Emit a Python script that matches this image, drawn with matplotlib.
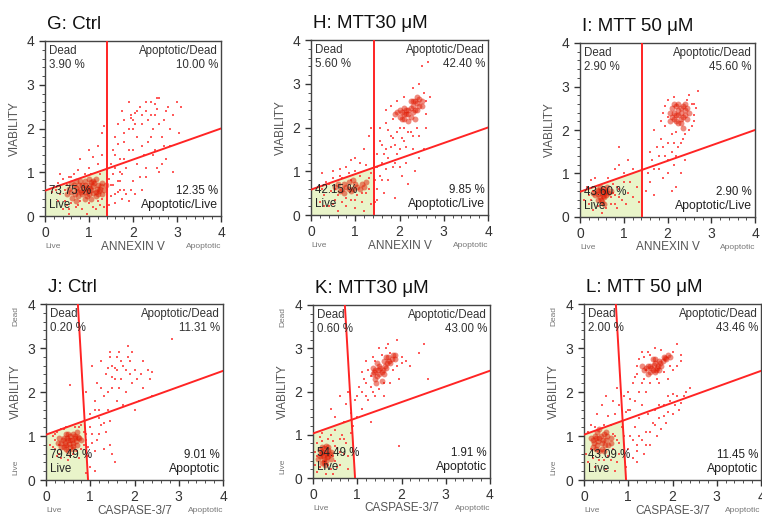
import matplotlib
matplotlib.use("Agg")
import matplotlib.pyplot as plt
from matplotlib.ticker import MultipleLocator

plt.rcParams['font.family'] = ['Liberation Sans', 'DejaVu Sans']

W, H = 762, 517

titles = ["G: Ctrl", "H: MTT30 \u03bcM", "I: MTT 50 \u03bcM",
          "J: Ctrl", "K: MTT30 \u03bcM", "L: MTT 50 \u03bcM"]
xlabels = ["ANNEXIN V"] * 3 + ["CASPASE-3/7"] * 3
pct_dead = ["3.90 %", "5.60 %", "2.90 %", "0.20 %", "0.60 %", "2.00 %"]
pct_apdead = ["10.00 %", "42.40 %", "45.60 %", "11.31 %", "43.00 %", "43.46 %"]
pct_live = ["73.75 %", "42.15 %", "43.60 %", "79.49 %", "54.49 %", "43.09 %"]
pct_aplive = ["12.35 %", "9.85 %", "2.90 %", "9.01 %", "1.91 %", "11.45 %"]
lr_names = ["Apoptotic/Live"] * 3 + ["Apoptotic"] * 3

# gates: vertical line (x at top, x at bottom), diagonal (y at x=0, y at x=4)
vgate_annexin = (1.42, 1.42)
dgate_annexin = (0.58, 2.0)
vgate_caspase = (0.72, 0.95)
dgate_caspase = (1.03, 2.48)

# dense cores of the populations (x, y)
core = [
    [(0.6,0.55),(0.7,0.65),(0.8,0.6),(0.85,0.7),(0.9,0.55),(0.95,0.65),(1.0,0.72),(1.05,0.6),
     (1.1,0.68),(1.15,0.55),(1.2,0.7),(0.75,0.45),(0.9,0.8),(1.0,0.5),(1.1,0.8),(1.25,0.62),
     (0.65,0.72),(1.3,0.75),(0.85,0.5),(1.05,0.78),(0.95,0.45),(1.2,0.5),(0.7,0.8),(1.15,0.85),
     (0.55,0.62),(0.6,0.75),(0.68,0.5),(0.72,0.58),(0.78,0.72),(0.82,0.55),(0.88,0.62),(0.92,0.72),
     (0.98,0.58),(1.02,0.65),(1.08,0.52),(1.12,0.75),(1.18,0.62),(1.22,0.58),(1.28,0.68),(1.35,0.6),
     (0.9,0.4),(1.05,0.4),(0.62,0.42),(1.3,0.5),(0.8,0.8),(1.0,0.85),(1.15,0.45),(0.7,0.35),
     (0.5,0.5),(1.38,0.72)],
    [(1.9,2.3),(2.0,2.25),(2.05,2.35),(2.1,2.2),(2.15,2.3),(2.2,2.4),(2.25,2.25),(2.3,2.5),
     (2.35,2.6),(2.4,2.55),(2.45,2.65),(2.3,2.35),(2.2,2.15),(2.0,2.4),(2.4,2.4),(2.5,2.6),
     (2.1,2.45),(2.25,2.6),(1.95,2.35),(2.05,2.2),(2.15,2.4),(2.25,2.45),(2.35,2.4),(2.45,2.5),
     (2.3,2.6),(2.4,2.7),(2.5,2.5),(2.2,2.3),(2.1,2.3),(2.35,2.2),
     (0.6,0.7),(0.7,0.6),(0.8,0.65),(0.9,0.55),(1.0,0.7),(1.1,0.6),(0.75,0.5),(0.95,0.8),
     (1.2,0.65),(0.85,0.75),(0.65,0.55),(0.75,0.7),(0.85,0.6),(1.05,0.65),(1.15,0.7),(0.55,0.65),
     (0.95,0.6),(1.25,0.75)],
    [(2.1,2.3),(2.15,2.4),(2.2,2.2),(2.25,2.35),(2.3,2.5),(2.35,2.3),(2.4,2.45),(2.2,2.55),
     (2.3,2.15),(2.1,2.5),(2.45,2.25),(2.25,2.6),(2.05,2.2),(2.4,2.6),(2.35,2.05),(2.15,2.25),
     (2.25,2.45),(2.3,2.4),(2.35,2.55),(2.2,2.35),(2.4,2.35),(2.45,2.5),(2.3,2.25),(2.15,2.6),
     (2.05,2.4),(2.5,2.4),(2.25,2.15),
     (0.35,0.5),(0.4,0.6),(0.45,0.45),(0.5,0.55),(0.55,0.65),(0.6,0.5),(0.45,0.7),(0.5,0.35),
     (0.4,0.4),(0.6,0.6),(0.55,0.45),(0.65,0.55),(0.42,0.52),(0.48,0.62),(0.52,0.48),(0.58,0.58),
     (0.38,0.62),(0.48,0.4),(0.62,0.68),(0.7,0.6),(0.3,0.55),(0.55,0.3)],
    [(0.35,0.85),(0.4,0.95),(0.45,0.8),(0.5,0.9),(0.55,1.0),(0.6,0.85),(0.65,0.95),(0.7,0.8),
     (0.45,1.05),(0.55,0.75),(0.6,1.05),(0.75,0.95),(0.4,0.75),(0.5,0.65),(0.7,1.1),(0.3,0.95),
     (0.38,0.9),(0.42,0.85),(0.48,0.95),(0.52,0.82),(0.58,0.92),(0.62,0.78),(0.68,0.88),(0.5,1.05),
     (0.45,0.7),(0.65,1.0),(0.55,0.9),(0.35,0.75),(0.72,0.98),(0.28,0.85),(0.6,0.7),(0.8,0.9)],
    [(0.15,0.5),(0.2,0.6),(0.25,0.45),(0.3,0.55),(0.35,0.65),(0.25,0.7),(0.3,0.4),(0.2,0.35),
     (0.35,0.5),(0.4,0.6),(0.15,0.65),(0.3,0.75),(0.18,0.55),(0.22,0.5),(0.28,0.6),(0.32,0.48),
     (0.38,0.55),(0.25,0.38),(0.2,0.72),(0.35,0.72),(0.12,0.45),(0.28,0.3),(0.4,0.45),
     (1.35,2.4),(1.4,2.5),(1.45,2.35),(1.5,2.6),(1.55,2.45),(1.6,2.7),(1.65,2.55),(1.7,2.8),
     (1.75,2.65),(1.8,2.85),(1.45,2.65),(1.55,2.25),(1.4,2.3),(1.6,2.4),(1.85,2.75),(1.38,2.45),
     (1.48,2.5),(1.52,2.55),(1.58,2.5),(1.62,2.6),(1.68,2.65),(1.72,2.7),(1.78,2.75),(1.5,2.4),
     (1.42,2.2),(1.65,2.8),(1.85,2.85),(1.35,2.55)],
    [(0.2,0.9),(0.25,1.0),(0.3,0.8),(0.35,0.95),(0.4,0.85),(0.45,1.05),(0.5,0.9),(0.55,0.8),
     (0.3,1.1),(0.4,0.7),(0.5,1.1),(0.2,0.75),(0.6,0.95),(0.35,0.65),(0.22,0.85),(0.28,0.95),
     (0.32,0.88),(0.38,1.0),(0.42,0.92),(0.48,0.8),(0.52,1.0),(0.28,0.7),(0.45,0.65),(0.15,0.95),
     (0.6,0.85),(0.35,1.15),
     (1.4,2.55),(1.5,2.6),(1.55,2.5),(1.6,2.65),(1.65,2.55),(1.7,2.7),(1.75,2.6),(1.8,2.8),
     (1.85,2.75),(1.45,2.4),(1.6,2.45),(1.7,2.5),(1.55,2.75),(1.9,2.85),(1.3,2.6),(1.45,2.6),
     (1.52,2.55),(1.58,2.62),(1.62,2.5),(1.68,2.6),(1.72,2.65),(1.78,2.7),(1.82,2.78),(1.5,2.45),
     (1.6,2.75),(1.35,2.5),(1.95,2.8)],
]

# scattered events (x, y)
spread = [
    [(0.25,0.6),(0.3,0.75),(0.35,0.5),(0.4,0.85),(0.45,0.35),(0.5,0.7),(0.55,0.9),(0.5,0.25),
     (0.6,0.3),(0.65,0.95),(0.7,0.2),(0.8,0.35),(0.85,0.15),(0.9,0.95),(1.0,0.3),(1.05,0.95),
     (1.1,0.2),(1.2,0.35),(1.25,0.95),(1.3,0.4),(1.35,0.2),(1.4,0.6),(1.45,0.85),(1.5,0.45),
     (1.55,0.7),(1.6,0.3),(1.65,0.55),(1.7,0.8),(1.75,0.4),(1.8,0.6),(1.9,0.35),(1.55,0.95),
     (1.45,0.25),(0.4,0.15),(0.75,1.05),(1.0,1.1),(1.2,1.2),(0.55,0.05),(0.95,0.05),
     (0.8,1.3),(1.0,1.5),(1.2,1.6),(1.3,1.9),(1.35,2.05),(1.1,1.35),(1.3,1.4),
     (1.5,1.2),(1.55,1.5),(1.6,1.8),(1.65,2.1),(1.7,1.3),(1.75,2.4),(1.8,1.7),(1.85,1.1),
     (1.9,2.0),(1.95,2.3),(2.0,1.5),(2.0,2.2),(2.05,2.35),(2.1,1.8),(2.1,1.2),(2.15,2.5),
     (2.2,2.1),(2.25,1.4),(2.3,2.4),(2.35,1.7),(2.4,2.6),(2.45,2.0),(2.5,1.5),(2.5,2.3),
     (2.55,1.1),(2.6,2.7),(2.65,1.8),(2.7,2.2),(2.75,1.3),(2.8,2.5),(2.85,1.6),(3.0,2.6),
     (3.1,2.5),(2.6,1.0),(2.9,1.0),(2.3,0.9),(2.0,0.8),(2.2,0.6),(1.9,2.6),(1.7,1.0),
     (1.6,1.4),(2.4,2.3),(1.95,2.25),(2.05,2.1),(2.3,1.1),(1.8,2.2),(2.7,1.6),(2.55,2.45),
     (0.3,0.35),(0.45,0.6),(0.6,0.9),(0.55,0.15),(0.35,0.95),(0.15,0.55),(0.75,0.25),(1.15,0.15),
     (1.25,0.25),(1.4,0.35),(1.5,0.7),(1.6,0.5),(1.65,0.8),(1.7,0.6),(1.75,0.95),(1.85,0.5),
     (1.95,0.6),(2.05,0.5),(2.15,0.9),(1.6,1.1),(1.8,1.3),(1.9,1.5),(2.2,1.6),(2.4,1.8),
     (2.6,2.1),(2.75,2.4),(2.5,2.55),(2.2,2.3),(2.0,2.0),(2.1,2.4),(2.35,2.2),(2.45,1.4),
     (2.65,1.2),(2.85,2.0),(3.05,1.9),(1.65,1.65),(1.8,1.9),(2.3,2.6),(2.55,2.7),(2.9,2.3)],
    [(0.2,0.3),(0.25,0.6),(0.3,0.45),(0.35,0.75),(0.4,0.2),(0.45,0.55),(0.5,0.85),(0.55,0.35),
     (0.6,0.1),(0.65,0.9),(0.7,0.3),(0.8,0.2),(0.85,0.95),(0.9,0.35),(1.0,0.15),(1.05,0.45),
     (1.1,0.9),(1.15,0.3),(1.2,0.1),(1.25,0.5),(1.3,0.85),(1.35,0.25),(0.55,0.6),(1.0,1.0),
     (0.7,0.85),(0.8,1.1),(1.0,1.3),(1.2,1.5),(1.3,1.8),(1.35,2.0),(1.1,1.2),(0.9,1.25),
     (1.25,1.15),(1.45,0.3),(1.5,0.6),(1.55,0.9),(1.6,1.2),(1.65,0.5),(1.7,1.5),(1.75,0.8),
     (1.8,1.8),(1.85,1.1),(1.9,0.4),(1.95,1.4),(2.0,2.0),(2.05,0.9),(2.1,1.7),(2.15,1.2),
     (2.2,0.7),(2.25,1.9),(2.3,1.5),(2.35,1.0),(2.4,2.0),(2.45,1.3),(1.6,1.6),(1.75,1.95),
     (1.5,1.4),(1.9,1.6),(2.0,1.1),(1.7,2.1),(1.85,2.2),(2.6,2.3),(2.55,2.8),(2.45,3.0),
     (2.5,3.4),(2.65,3.5),(2.1,2.7),(2.3,2.9),(1.95,2.6),(2.6,2.0),(2.55,1.5),
     (1.5,1.1),(1.55,1.7),(1.6,0.8),(1.65,1.4),(1.7,1.05),(1.75,1.3),(1.8,1.55),(1.85,1.75),
     (1.9,1.2),(1.95,1.9),(2.0,1.5),(2.05,1.75),(2.1,2.0),(2.15,1.55),(2.2,1.9),(2.3,1.8),
     (2.45,1.8),(2.6,2.6),(2.7,2.7),(1.7,2.4),(1.8,2.5),(1.55,2.0),(0.3,0.2),(0.4,0.7),
     (0.5,0.25),(0.6,0.45),(0.8,0.4),(0.9,0.8),(1.0,0.35),(1.15,0.5),(1.3,0.6),(1.35,0.95),
     (1.45,0.8),(1.5,0.35),(0.25,0.95),(0.5,1.0),(0.65,1.05)],
    [(0.1,0.4),(0.15,0.7),(0.2,0.3),(0.25,0.85),(0.3,0.15),(0.3,0.6),(0.7,0.3),(0.75,0.75),
     (0.8,0.5),(0.85,0.2),(0.9,0.65),(0.95,0.4),(1.0,0.8),(1.05,0.3),(1.1,0.55),(1.2,0.45),
     (1.3,0.7),(1.35,0.35),(0.5,0.1),(0.65,0.9),(0.35,0.9),(1.0,1.0),(0.9,1.2),(0.8,1.1),
     (1.1,1.3),(0.9,1.6),(1.2,1.1),(1.5,0.6),(1.55,1.0),(1.6,0.8),(1.65,1.3),(1.7,0.5),
     (1.75,1.6),(1.8,1.1),(1.85,1.8),(1.9,0.9),(1.95,1.4),(2.0,1.7),(2.0,1.0),(2.1,1.9),
     (2.15,1.2),(2.2,0.7),(2.25,1.6),(2.3,1.0),(2.35,1.8),(2.4,1.3),(1.95,2.1),(2.0,2.7),
     (2.5,2.8),(2.6,2.6),(2.7,2.9),(2.55,2.1),(2.6,2.35),(1.9,2.4),(2.15,2.75),(2.45,2.7),
     (1.7,2.0),(2.2,1.4),(2.1,0.6),(1.6,1.5),(1.7,1.1),(1.8,1.4),(1.9,1.6),(2.0,1.3),
     (2.1,1.5),(2.15,1.7),(2.2,1.95),(2.3,1.7),(2.4,1.9),(2.5,2.0),(2.6,2.2),(2.65,2.5),
     (2.55,2.6),(1.95,2.55),(2.0,2.3),(1.85,2.2),(0.2,0.5),(0.25,0.4),(0.7,0.45),(0.75,0.55),
     (0.8,0.3),(0.85,0.7),(0.9,0.45),(1.15,0.8),(0.6,0.2),(0.4,0.25)],
    [(0.1,0.8),(0.15,1.0),(0.2,0.7),(0.25,1.1),(0.3,0.6),(0.2,0.9),(0.35,0.5),(0.4,1.15),
     (0.6,0.6),(0.65,1.2),(0.8,0.7),(0.85,1.1),(0.9,0.9),(0.95,0.55),(0.75,0.5),(0.5,0.45),
     (0.8,1.25),(1.0,1.2),(1.05,0.85),(1.1,0.65),(1.2,1.05),(1.3,0.7),(1.45,0.8),(1.5,0.6),
     (1.55,0.4),(1.0,0.3),(0.9,0.15),(1.1,0.2),(0.55,2.15),(0.9,2.0),(1.0,1.5),(1.05,2.6),
     (1.1,1.8),(1.15,2.2),(1.2,1.4),(1.25,2.7),(1.3,1.9),(1.35,2.4),(1.4,1.6),(1.45,2.8),
     (1.5,2.1),(1.55,2.55),(1.6,1.8),(1.65,2.9),(1.7,2.3),(1.75,2.6),(1.8,2.0),(1.85,2.8),
     (1.9,2.4),(1.95,2.2),(2.0,2.5),(2.1,1.8),(2.2,2.1),(2.3,2.5),(2.4,2.45),(2.2,2.7),
     (1.85,3.05),(2.85,3.2),(1.5,2.6),(1.6,2.5),(1.4,2.55),(1.75,1.7),(1.2,1.6),(1.3,1.3),
     (2.4,1.9),(2.0,1.6),(1.55,2.3),(1.95,2.9),(1.45,1.35),(0.15,0.75),(0.2,1.05),(0.25,0.55),
     (0.3,0.8),(0.35,1.15),(0.55,0.55),(0.7,0.65),(0.75,1.2),(0.85,0.8),(0.9,1.05),(0.95,0.75),
     (0.45,1.2),(1.05,1.05),(1.15,0.9),(1.25,1.25),(1.35,1.1),(1.1,1.6),(1.25,2.1),(1.4,2.0),
     (1.5,2.35),(1.65,2.1),(1.7,2.7),(1.8,2.5),(1.9,2.7),(2.05,2.3),(2.15,2.4),(1.45,2.9),
     (1.6,2.8),(2.35,2.3)],
    [(0.05,0.3),(0.1,0.8),(0.1,0.15),(0.15,0.95),(0.4,0.2),(0.45,0.85),(0.5,0.4),(0.55,0.7),
     (0.6,0.3),(0.65,1.0),(0.7,0.55),(0.75,0.8),(0.8,0.2),(0.85,1.05),(0.9,0.65),(0.5,1.1),
     (0.4,1.0),(0.2,1.05),(0.3,0.1),(0.6,0.9),(0.4,1.6),(0.5,1.4),(0.6,1.9),(0.7,1.3),
     (0.75,1.7),(0.8,2.0),(0.85,1.5),(0.9,1.2),(0.95,1.8),(1.0,1.4),(1.05,2.1),(1.1,1.6),
     (1.15,2.3),(1.2,1.9),(1.25,2.5),(1.3,1.3),(1.3,2.1),(1.2,2.7),(1.1,2.45),(1.35,2.8),
     (1.5,3.0),(1.7,3.1),(1.9,3.2),(2.0,2.8),(2.1,2.7),(1.95,2.3),(1.75,2.2),(1.5,2.05),
     (2.2,2.6),(2.5,3.1),(2.6,2.3),(2.4,2.9),(1.95,0.75),(1.6,1.9),(1.65,3.0),(1.35,2.0),
     (0.05,0.6),(0.1,0.5),(0.15,0.25),(0.2,0.85),(0.35,0.3),(0.45,0.5),(0.5,0.75),(0.55,0.25),
     (0.6,0.6),(0.7,0.9),(0.8,0.5),(0.35,0.9),(0.45,0.1),(1.0,1.9),(1.1,2.0),(1.2,2.2),
     (1.3,2.35),(1.4,2.7),(1.55,2.85),(1.75,2.9),(1.8,2.5),(1.9,2.6),(2.0,2.65),(1.6,2.2),
     (1.25,1.8),(1.4,1.9)],
    [(0.05,0.6),(0.1,1.1),(0.1,0.4),(0.15,1.25),(0.2,0.5),(0.25,0.3),(0.45,0.45),(0.55,0.55),
     (0.6,1.25),(0.65,0.7),(0.7,1.0),(0.75,0.4),(0.8,0.85),(0.85,1.2),(0.7,0.2),(0.5,0.25),
     (0.3,1.5),(0.4,1.7),(0.5,1.9),(0.55,1.45),(0.65,1.8),(0.7,1.5),(0.8,1.7),(0.75,2.1),
     (0.9,1.9),(0.95,1.55),(1.0,2.0),(1.05,1.6),(1.1,2.2),(1.15,1.8),(1.2,2.4),(1.25,2.0),
     (1.3,2.2),(1.35,2.8),(1.4,2.0),(1.45,2.9),(1.6,3.0),(1.75,2.95),(2.0,2.9),(2.1,3.1),
     (2.2,2.7),(2.0,2.5),(1.9,2.3),(1.7,2.2),(1.5,2.2),(1.2,2.6),(1.3,2.9),(0.95,0.3),
     (1.0,0.7),(1.05,1.0),(1.1,0.5),(1.15,1.2),(1.2,0.8),(1.25,1.4),(1.3,0.9),(1.35,0.6),
     (1.4,1.1),(1.45,1.5),(1.5,0.8),(1.55,1.3),(1.6,1.6),(1.65,1.0),(1.7,1.4),(1.75,1.15),
     (1.8,1.7),(1.85,1.3),(1.9,1.55),(1.95,1.8),(2.0,1.5),(2.05,1.7),(2.1,1.9),(2.2,1.75),
     (2.3,2.0),(2.4,2.1),(1.2,0.4),(1.0,1.6),(1.3,1.7),(0.15,0.7),(0.25,1.2),(0.35,0.45),
     (0.45,1.25),(0.6,0.45),(0.65,1.05),(0.75,0.9),(0.8,0.6),(0.9,1.0),(1.4,2.5),(1.5,2.85),
     (1.65,2.3),(1.8,2.45),(1.95,2.6),(2.1,2.6),(2.2,2.85),(1.35,2.3),(1.25,2.75),(1.15,2.35),
     (1.05,1.85),(1.4,0.8),(1.5,1.1),(1.6,1.25),(1.7,1.7),(1.8,1.45),(1.9,1.9),(2.0,1.95),
     (2.15,1.6),(2.25,1.9),(1.1,0.9),(1.25,1.0),(1.2,0.65)],
]

# axes boxes in pixels: left, top, right, bottom
boxes = [(45, 41, 221, 216), (311, 40, 488, 215), (580, 43, 755, 217),
         (46, 304, 223, 480), (313, 305, 490, 478), (584, 304, 761, 480)]

fig = plt.figure(figsize=(W / 100, H / 100), dpi=100)

red = '#ff2424'
grey = '#555555'

for i in range(6):
    l, t, r, b = boxes[i]
    ax = fig.add_axes([l / W, 1 - b / H, (r - l) / W, (b - t) / H])
    ax.set_xlim(0, 4)
    ax.set_ylim(0, 4)

    if i < 3:
        vg, dg = vgate_annexin, dgate_annexin
    else:
        vg, dg = vgate_caspase, dgate_caspase
    # corner where the two gates cross
    slope_d = (dg[1] - dg[0]) / 4
    k = (vg[0] - vg[1]) / 4
    yi = (dg[0] + slope_d * vg[1]) / (1 - slope_d * k)
    xi = vg[1] + k * yi
    ax.fill([0, vg[1], xi, 0], [0, 0, yi, dg[0]], color='#e9f4c9', zorder=0)

    cx = [p[0] for p in core[i]]
    cy = [p[1] for p in core[i]]
    sx = [p[0] for p in spread[i]]
    sy = [p[1] for p in spread[i]]
    ax.scatter(sx, sy, s=4, marker='s', color=red, alpha=0.75, linewidths=0, zorder=2)
    ax.scatter(cx, cy, s=18, marker='o', color='#e01800', alpha=0.5, linewidths=0, zorder=2)

    ax.plot([vg[0], vg[1]], [4, 0], color=red, lw=1.4, zorder=3)
    ax.plot([0, 4], [dg[0], dg[1]], color=red, lw=1.4, zorder=3)

    fs = 8.3
    ax.text(0.09, 3.77, "Dead", fontsize=fs, color='#333333', va='center')
    ax.text(0.09, 3.45, pct_dead[i], fontsize=fs, color='#333333', va='center')
    ax.text(3.93, 3.77, "Apoptotic/Dead", fontsize=fs, color='#333333', va='center', ha='right')
    ax.text(3.93, 3.45, pct_apdead[i], fontsize=fs, color='#333333', va='center', ha='right')
    ax.text(0.09, 0.57, pct_live[i], fontsize=fs, color='#222222', va='center', zorder=4)
    ax.text(0.09, 0.25, "Live", fontsize=fs, color='#222222', va='center', zorder=4)
    ax.text(3.93, 0.57, pct_aplive[i], fontsize=fs, color='#222222', va='center', ha='right', zorder=4)
    ax.text(3.93, 0.25, lr_names[i], fontsize=8.8, color='#222222', va='center', ha='right', zorder=4)

    ax.set_xticks([0, 1, 2, 3, 4])
    ax.set_yticks([0, 1, 2, 3, 4])
    ax.xaxis.set_minor_locator(MultipleLocator(0.2))
    ax.yaxis.set_minor_locator(MultipleLocator(0.2))
    ax.tick_params(labelsize=10, colors='#333333', length=4, width=1)
    ax.tick_params(which='minor', length=2, width=0.6, colors='#333333')
    for sp in ax.spines.values():
        sp.set_color('#444444')
        sp.set_linewidth(1.0)

    ax.text(0.01, 1.095, titles[i], transform=ax.transAxes, fontsize=13.5,
            ha='left', va='center', color='#111111')
    ax.text(0.5, -0.175, xlabels[i], transform=ax.transAxes, fontsize=8.5,
            ha='center', va='center', color=grey)
    ax.text(0.0, -0.175, "Live", transform=ax.transAxes, fontsize=6,
            ha='left', va='center', color='#777777')
    ax.text(0.995 if i == 5 else 1.0, -0.175, "Apoptotic", transform=ax.transAxes, fontsize=6,
            ha='right', va='center', color='#777777')
    ax.text(-0.17, 0.5, "VIABILITY", transform=ax.transAxes, fontsize=8.5,
            rotation=90, ha='center', va='center', color=grey)
    if i >= 3:
        ax.text(-0.17, 0.93, "Dead", transform=ax.transAxes, fontsize=6,
                rotation=90, ha='center', va='center', color='#777777')
        ax.text(-0.17, 0.07, "Live", transform=ax.transAxes, fontsize=6,
                rotation=90, ha='center', va='center', color='#777777')

fig.savefig("out.png", dpi=100)
